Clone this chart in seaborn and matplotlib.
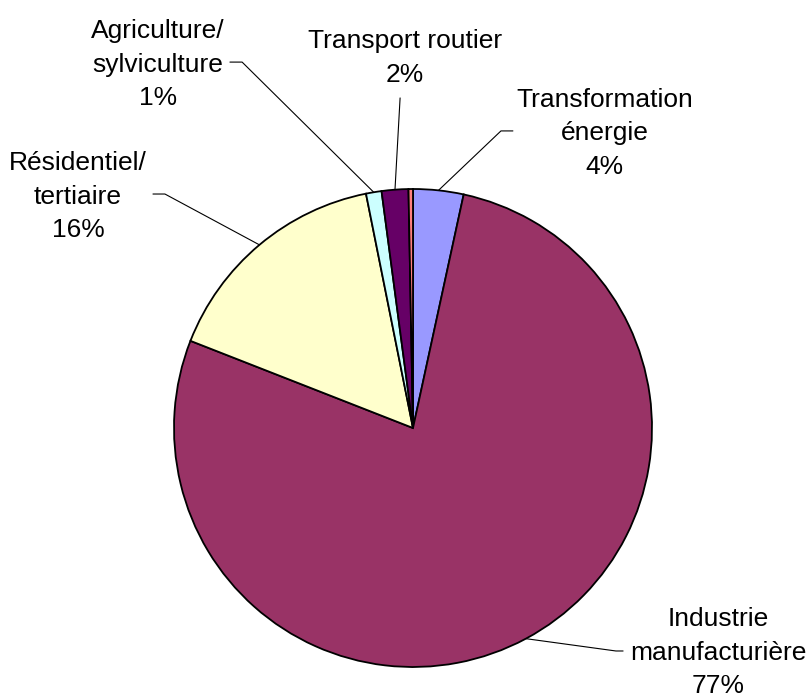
import numpy as np
import matplotlib
matplotlib.use("Agg")
import matplotlib.pyplot as plt
import seaborn as sns

# part of each sector (%), clockwise from 12 o'clock
sectors = ["Transformation\nénergie", "Industrie\nmanufacturière",
           "Résidentiel/\ntertiaire", "Agriculture/\nsylviculture",
           "Transport routier", "Autres"]
shares = [3.4, 77.5, 15.9, 1.05, 1.8, 0.3]
shown = ["4%", "77%", "16%", "1%", "2%", None]
colors = ["#9999FF", "#993366", "#FFFFCC", "#CCFFFF", "#660066", "#FF8080"]

sns.set_style("white")
plt.rcParams['font.family'] = ['Liberation Sans', 'DejaVu Sans']

fig = plt.figure(figsize=(8.08, 6.96), dpi=100)
ax = fig.add_axes([0, 0, 1, 1])

wedges, _ = ax.pie(shares, colors=colors, startangle=90, counterclock=False,
                   wedgeprops=dict(edgecolor="black", linewidth=1.3))

# label placement (text centre, elbow points of the leader) in pie radii
label_pos = [(0.803, 1.234), (1.276, -0.941), (-1.402, 0.967),
             (-1.067, 1.519), (-0.033, 1.548)]
elbows = [[(0.418, 1.243), (0.368, 1.243)],
          [(0.879, -0.933), (0.849, -0.933)],
          [(-1.088, 0.979), (-1.038, 0.979)],
          [(-0.766, 1.531), (-0.715, 1.531)],
          [(-0.054, 1.381)]]

for i, (name, pct) in enumerate(zip(sectors, shown)):
    if pct is None:
        continue
    w = wedges[i]
    mid = np.deg2rad((w.theta1 + w.theta2) / 2)
    edge = (np.cos(mid), np.sin(mid))
    pts = elbows[i] + [edge]
    ax.plot([p[0] for p in pts], [p[1] for p in pts], color="black", lw=0.8)
    tx, ty = label_pos[i]
    ax.text(tx, ty, f"{name}\n{pct}", ha="center", va="center",
            multialignment="center", fontsize=19, linespacing=1.5,
            color="black")

ax.set_xlim(-413 / 239, (808 - 413) / 239)
ax.set_ylim((428 - 696) / 239, 428 / 239)
ax.set_aspect("auto")
ax.axis("off")

plt.savefig("out.png", dpi=100)
plt.close()
